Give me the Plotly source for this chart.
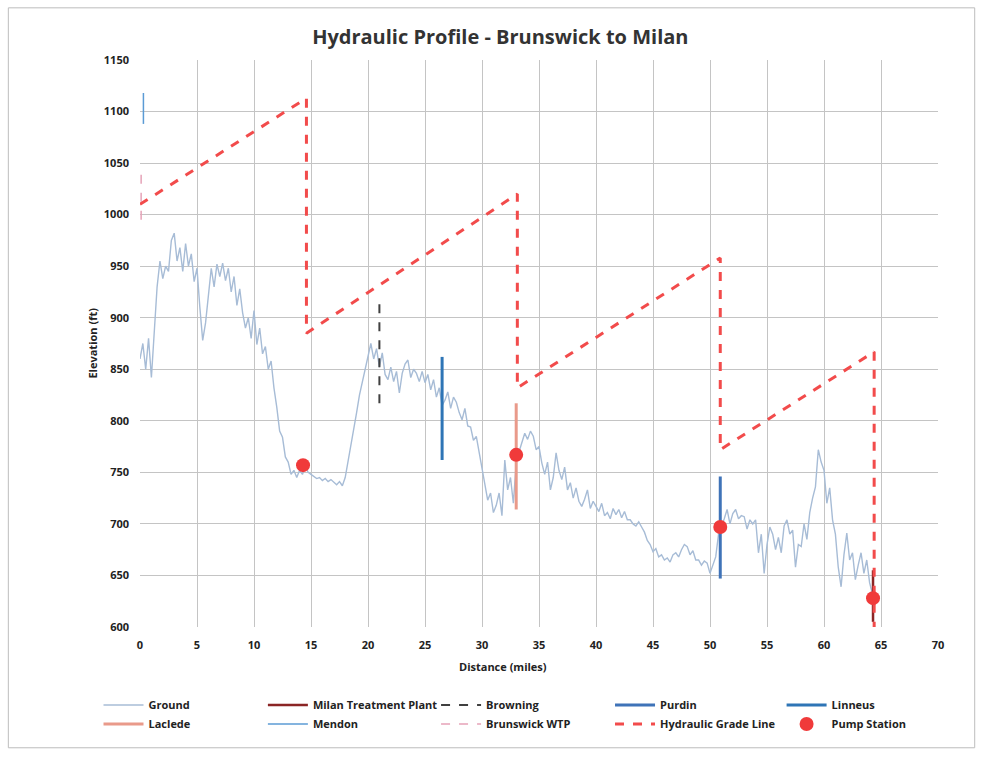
import plotly.graph_objects as go

# Ground elevation (ft) sampled every quarter mile from Brunswick (mile 0)
ground_ft = [
    860, 875, 850, 880,   842, 885, 930, 955,   938, 950, 945, 975,   982, 955, 968, 945,
    972, 950, 962, 935,   948, 910, 878, 895,   925, 948, 930, 952,   940, 953, 936, 948,
    925, 940, 912, 928,   905, 890, 900, 880,   907, 874, 890, 865,   872, 850, 858, 832,
    813, 790, 784, 765,   760, 748, 752, 745,   752, 748, 756, 750,   748, 746, 744, 745,
    742, 744, 741, 743,   740, 738, 741, 737,   745, 760, 775, 790,   808, 825, 838, 849,
    862, 875, 860, 870,   852, 866, 845, 840,   852, 838, 848, 827,   846, 855, 859, 842,
    850, 846, 838, 848,   837, 845, 830, 840,   823, 832, 815, 820,   828, 812, 823, 818,
    808, 801, 812, 795,   794, 781, 785, 770,   755, 740, 723, 730,   711, 718, 730, 708,
    762, 733, 745, 720,   759, 770, 778, 788,   782, 790, 785, 772,   775, 759, 748, 760,
    733, 745, 769, 752,   743, 755, 733, 740,   725, 735, 722, 717,   724, 733, 715, 722,
    717, 712, 720, 708,   711, 705, 715, 709,   714, 706, 712, 704,   704, 700, 698, 702,
    697, 692, 684, 680,   673, 676, 668, 670,   665, 667, 663, 670,   672, 668, 675, 680,
    678, 670, 674, 665,   665, 660, 664, 662,   652, 660, 668, 690,   697, 705, 714, 700,
    710, 714, 705, 708,   707, 695, 704, 700,   704, 672, 690, 652,   680, 697, 690, 675,
    687, 672, 698, 704,   690, 694, 658, 680,   678, 700, 685, 711,   725, 736, 772, 760,
    752, 720, 735, 704,   690, 658, 639, 670,   691, 665, 672, 646,   660, 672, 652, 665,
    643, 632,
]
ground_mi = [i * 0.25 for i in range(len(ground_ft))]

# Hydraulic grade line (mile, ft)
hgl_mi = [0, 14.6, 14.6, 33.1, 33.1, 50.9, 50.9, 64.4, 64.4]
hgl_ft = [1010, 1113, 885, 1020, 832, 958, 772, 867, 600]

# Pump stations
pump_mi = [14.3, 33.0, 50.9, 64.3]
pump_ft = [757, 767, 697, 628]

# Town / facility markers: mile, bottom and top elevation
town_names = ["Laclede", "Milan Treatment Plant", "Mendon", "Browning",
              "Brunswick WTP", "Purdin", "Linneus"]
town_mi = [33.0, 64.3, 0.3, 21.0, 0.1, 50.9, 26.5]
town_lo = [714, 605, 1088, 817, 995, 647, 762]
town_hi = [817, 655, 1118, 917, 1040, 746, 862]
town_color = ["#e99a8a", "#8b2525", "#5b9bd5", "#404040", "#e6a3b8", "#3f73b8", "#2e75b6"]
town_dash = ["solid", "solid", "solid", "dash", "dash", "solid", "solid"]
town_width = [3, 2.5, 1.5, 2, 1.5, 3, 3]

fig = go.Figure()


def town(i, legend):
    return go.Scatter(
        x=[town_mi[i], town_mi[i]], y=[town_lo[i], town_hi[i]], mode="lines",
        name=town_names[i], legend=legend,
        line=dict(color=town_color[i], width=town_width[i], dash=town_dash[i]),
    )


# Legend column 1
fig.add_trace(go.Scatter(x=ground_mi, y=ground_ft, mode="lines", name="Ground",
                         legend="legend", line=dict(color="#a7bcd6", width=1.4)))
fig.add_trace(town(0, "legend"))    # Laclede
# Legend column 2
fig.add_trace(town(1, "legend2"))   # Milan Treatment Plant
fig.add_trace(town(2, "legend2"))   # Mendon
# Legend column 3
fig.add_trace(town(3, "legend3"))   # Browning
fig.add_trace(town(4, "legend3"))   # Brunswick WTP
# Legend column 4
fig.add_trace(town(5, "legend4"))   # Purdin
fig.add_trace(go.Scatter(x=hgl_mi, y=hgl_ft, mode="lines", name="Hydraulic Grade Line",
                         legend="legend4",
                         line=dict(color="#f24b4b", width=3, dash="dash")))
# Legend column 5
fig.add_trace(town(6, "legend5"))   # Linneus
fig.add_trace(go.Scatter(x=pump_mi, y=pump_ft, mode="markers", name="Pump Station",
                         legend="legend5", marker=dict(color="#f03a3a", size=14)))

tick_font = dict(family="Open Sans", size=11, color="#222", weight="bold")
legend_font = dict(family="Open Sans", size=11, color="#222", weight="bold")


def legend_at(x):
    return dict(orientation="v", x=x, xanchor="left", y=-0.112, yanchor="top",
                itemwidth=40, font=legend_font, bgcolor="rgba(0,0,0,0)",
                traceorder="normal", tracegroupgap=0)


fig.update_layout(
    width=981, height=763, autosize=False,
    margin=dict(l=140, r=43, t=60, b=136, autoexpand=False),
    paper_bgcolor="white", plot_bgcolor="white",
    title=dict(text="Hydraulic Profile - Brunswick to Milan", x=0.51, xref="container",
               y=0.952, yanchor="middle",
               font=dict(family="Open Sans", size=20, color="#333", weight="bold")),
    xaxis=dict(range=[0, 70], dtick=5, tick0=0, showgrid=True, gridcolor="#c4c4c4",
               gridwidth=1, zeroline=False, showline=False, ticks="",
               ticklabelstandoff=10, tickfont=tick_font),
    yaxis=dict(range=[600, 1150], dtick=50, tick0=600, showgrid=True, gridcolor="#c4c4c4",
               gridwidth=1, zeroline=False, showline=False, ticks="",
               ticklabelstandoff=10, tickfont=tick_font),
    legend=legend_at(-0.052),
    legend2=legend_at(0.154),
    legend3=legend_at(0.371),
    legend4=legend_at(0.589),
    legend5=legend_at(0.804),
    showlegend=True,
    annotations=[
        dict(text="Distance (miles)", xref="paper", yref="paper", x=0.455, y=-0.086,
             showarrow=False, font=dict(family="Open Sans", size=11, color="#222",
                                        weight="bold")),
        dict(text="Elevation (ft)", xref="paper", yref="paper", x=-0.072, y=0.5,
             textangle=-90, showarrow=False,
             font=dict(family="Open Sans", size=11, color="#222", weight="bold")),
    ],
    shapes=[
        dict(type="rect", xref="paper", yref="paper", x0=-0.165, x1=1.046, y0=-0.213,
             y1=1.092, line=dict(color="#bdbdbd", width=1)),
    ],
)

fig.write_html("out.html")
